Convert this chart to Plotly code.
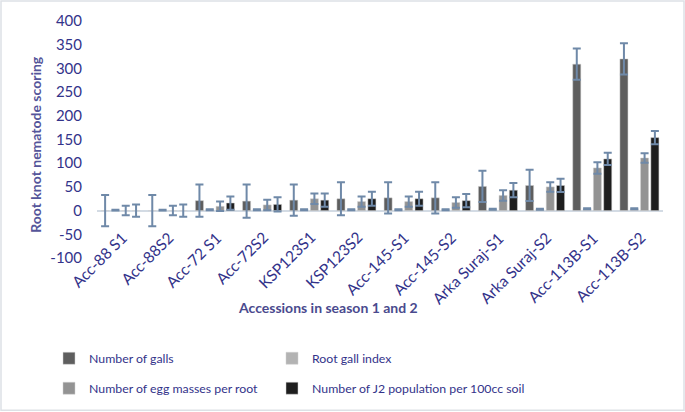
import plotly.graph_objects as go

categories = ["Acc-88 S1", "Acc-88S2", "Acc-72 S1", "Acc-72S2", "KSP123S1", "KSP123S2",
              "Acc-145-S1", "Acc-145-S2", "Arka Suraj-S1", "Arka Suraj-S2", "Acc-113B-S1", "Acc-113B-S2"]

galls = [0, 0, 21, 20, 22, 25, 27, 27, 51, 53, 309, 320]
galls_err = [33, 33, 34, 35, 33, 35, 33, 33, 33, 33, 33, 33]

root_gall_index = [1, 1, 2, 2, 2, 2, 2, 2, 3, 3, 4, 4]
root_gall_err = [1, 1, 1, 1, 1, 1, 1, 1, 1, 1, 1, 1]

egg_masses = [0, 0, 9, 12, 25, 19, 19, 17, 32, 50, 90, 111]
egg_err = [10, 10, 10, 11, 11, 11, 11, 11, 11, 10, 12, 10]

j2_pop = [0, 0, 16, 13, 22, 25, 25, 21, 43, 53, 109, 154]
j2_err = [13, 13, 14, 15, 14, 15, 15, 14, 15, 14, 13, 14]

series_names = ["Number of galls", "Root gall index",
                "Number of egg masses per root", "Number of J2 population per 100cc soil"]

y_ticks = [-100, -50, 0, 50, 100, 150, 200, 250, 300, 350, 400]

NAVY = "#33338a"
ERR = "#6f89a8"
FONT = "Lato"

# plot area in pixels
L, R, T, B = 97, 663, 21, 258.5
W, H = R - L, B - T


def px_x(x):
    return (x - L) / W


def px_y(y):
    return (B - y) / H


fig = go.Figure()
specs = [
    (series_names[0], galls, galls_err, "#5e5e5e", "legend", 49, 359),
    (series_names[1], root_gall_index, root_gall_err, "#b3b3b3", "legend2", 272, 359),
    (series_names[2], egg_masses, egg_err, "#939393", "legend3", 49, 389),
    (series_names[3], j2_pop, j2_err, "#1e1e1e", "legend4", 272, 389),
]
legends = {}
for name, vals, errs, col, lg, lx, ly in specs:
    fig.add_trace(go.Bar(
        name=name, x=categories, y=vals,
        marker=dict(color=col, line=dict(color="#d0d0d0", width=0.5)),
        error_y=dict(type="data", array=errs, visible=True, color=ERR, thickness=2, width=4),
        legend=lg,
    ))
    legends[lg] = dict(orientation="h", x=px_x(lx), xanchor="left", y=px_y(ly), yanchor="middle",
                       font=dict(size=12.3, color=NAVY), bgcolor="rgba(0,0,0,0)")

fig.update_layout(
    width=685, height=412,
    margin=dict(l=L, r=685 - R, t=T, b=412 - B, autoexpand=False),
    paper_bgcolor="white", plot_bgcolor="white",
    barmode="group", bargap=0.125, bargroupgap=0.22,
    font=dict(family=FONT, color=NAVY, size=14),
    xaxis=dict(type="category", showgrid=False, showline=False, zeroline=False,
               showticklabels=False, ticks="", range=[-0.5, len(categories) - 0.5]),
    yaxis=dict(range=[-100, 400], tickmode="array", tickvals=y_ticks,
               ticktext=[str(v) for v in y_ticks],
               showgrid=False, showline=False,
               zeroline=True, zerolinecolor="#d3dbe4", zerolinewidth=2,
               ticks="outside", ticklen=11, tickcolor="rgba(0,0,0,0)",
               tickfont=dict(size=15, color=NAVY), automargin=False),
    showlegend=True,
    **legends,
)

# category labels sitting just below the zero line, as in the original
for cat in categories:
    fig.add_annotation(text=cat, x=cat, y=0, xref="x", yref="y", showarrow=False,
                       textangle=-45, xanchor="right", yanchor="top", xshift=12, yshift=-15,
                       font=dict(size=15.5, color=NAVY, family=FONT))

fig.add_annotation(text="<b>Accessions in season 1 and 2</b>", xref="paper", yref="paper",
                   x=px_x(328), y=px_y(308), showarrow=False,
                   font=dict(size=14, color="#4a4a8e", family=FONT), xanchor="center", yanchor="middle")
fig.add_annotation(text="<b>Root knot nematode scoring</b>", xref="paper", yref="paper",
                   x=px_x(36), y=px_y(145), showarrow=False, textangle=-90,
                   font=dict(size=14, color="#55559a", family=FONT), xanchor="center", yanchor="middle")

fig.add_shape(type="rect", xref="paper", yref="paper",
              x0=px_x(1), x1=px_x(684), y0=px_y(411), y1=px_y(1),
              line=dict(color="#dde1e6", width=1.5), fillcolor="rgba(0,0,0,0)", layer="below")

fig.write_html("out.html", config={"displayModeBar": False},
               post_script="document.body.style.margin='0px';document.body.style.overflow='hidden';")
